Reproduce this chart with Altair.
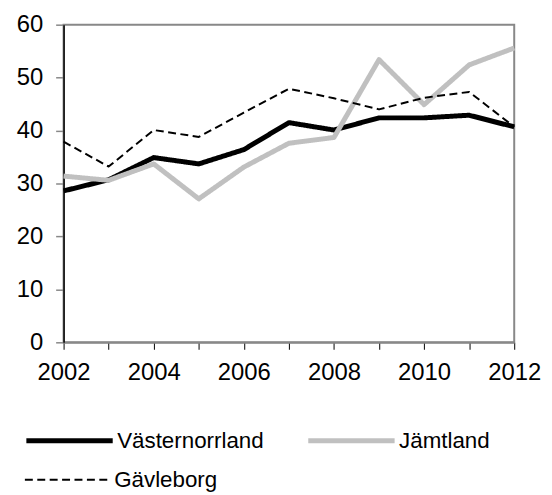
import altair as alt
import pandas as pd

years = list(range(2002, 2013))
vasternorrland = [28.6, 30.7, 34.9, 33.7, 36.4, 41.5, 40.1, 42.4, 42.4, 42.9, 40.7]
jamtland = [31.4, 30.6, 33.7, 27.1, 33.1, 37.6, 38.7, 53.4, 44.9, 52.4, 55.6]
gavleborg = [37.9, 33.2, 40.1, 38.8, 43.4, 47.9, 46.1, 44.0, 46.2, 47.3, 40.7]

series_names = ["Västernorrland", "Jämtland", "Gävleborg"]
series_colors = ["#000000", "#c0c0c0", "#000000"]
series_widths = [5, 5, 2]
# dash scale listed with the dashed series first (keeps its legend separate)
dash_names = ["Gävleborg", "Västernorrland", "Jämtland"]
dash_patterns = [[8, 4.5], [1, 0], [1, 0]]

rows = []
for name, vals in zip(series_names, [vasternorrland, jamtland, gavleborg]):
    for y, v in zip(years, vals):
        rows.append({"year": y, "value": v, "series": name})
df = pd.DataFrame(rows)

FONT = "Liberation Sans"

common_legend = dict(
    title=None,
    orient="none",
    direction="horizontal",
    legendX=-40,
    columnPadding=34,
    symbolType="stroke",
    symbolSize=7569,
    labelFontSize=22.5,
    labelFont=FONT,
    labelColor="#000000",
    labelOffset=2,
    padding=0,
    gridAlign="each",
)

legend_solid = alt.Legend(
    values=series_names[:2],
    legendY=373,
    columns=2,
    symbolStrokeWidth=5,
    **common_legend,
)
legend_dash = alt.Legend(
    values=series_names[2:],
    legendY=414,
    columns=1,
    symbolStrokeWidth=2,
    symbolStrokeColor="#000000",
    **common_legend,
)

chart = alt.Chart(df).mark_line(strokeJoin="round").encode(
    x=alt.X(
        "year:Q",
        scale=alt.Scale(domain=[2002, 2012], nice=False, zero=False),
        axis=alt.Axis(
            title=None,
            values=years,
            labelExpr="datum.value % 2 == 0 ? datum.label : ''",
            format="d",
            grid=False,
            domainColor="#888888",
            domainWidth=2,
            tickColor="#000000",
            tickWidth=1,
            tickSize=7,
            labelPadding=11,
            labelFontSize=24,
            labelFont=FONT,
            labelColor="#000000",
            labelFlush=False,
            labelOverlap=False,
        ),
    ),
    y=alt.Y(
        "value:Q",
        scale=alt.Scale(domain=[0, 60], nice=False),
        axis=alt.Axis(
            title=None,
            values=[0, 10, 20, 30, 40, 50, 60],
            grid=False,
            domainColor="#000000",
            domainWidth=1.5,
            tickColor="#888888",
            tickWidth=1.5,
            tickSize=8,
            labelPadding=13,
            labelFontSize=24,
            labelFont=FONT,
            labelColor="#000000",
            labelOverlap=False,
        ),
    ),
    color=alt.Color(
        "series:N",
        scale=alt.Scale(domain=series_names, range=series_colors),
        legend=legend_solid,
    ),
    strokeWidth=alt.StrokeWidth(
        "series:N",
        scale=alt.Scale(type="ordinal", domain=series_names, range=series_widths),
        legend=None,
    ),
    strokeDash=alt.StrokeDash(
        "series:N",
        scale=alt.Scale(domain=dash_names, range=dash_patterns),
        legend=legend_dash,
    ),
    order=alt.Order("year:Q"),
).properties(
    width=454,
    height=320,
    autosize=alt.AutoSizeParams(type="none"),
    padding={"left": 56, "top": 15, "right": 30, "bottom": 150},
).configure_view(
    stroke="#888888",
    strokeWidth=2,
)

chart.save("out.html", embed_options={"renderer": "svg", "actions": False})
